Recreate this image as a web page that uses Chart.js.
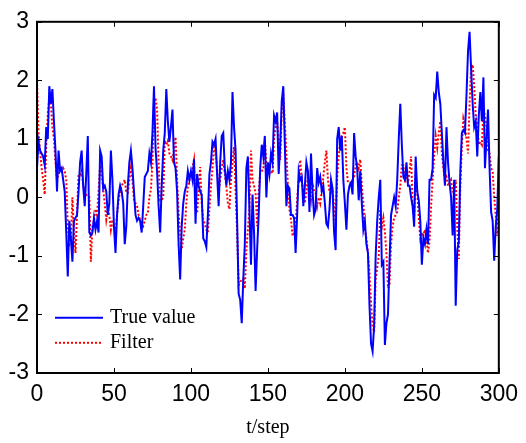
<!DOCTYPE html>
<html>
<head>
<meta charset="utf-8">
<script src="https://cdn.jsdelivr.net/npm/chart.js@4.4.0/dist/chart.umd.min.js"></script>
<style>
  body { margin: 0; background: #fff; }
  #wrap { width: 526px; height: 443px; }
</style>
</head>
<body>
<div id="wrap"><canvas id="filterChart" width="526" height="443"></canvas></div>
<script>
// time steps 0..300
const steps = Array.from({ length: 301 }, (_, i) => i);

// values, 10 per row
const trueValue = [
  0.5, 0.95, 0.8, 0.75, 0.7, 0.55, 1.2, 1.0, 1.9, 1.6,
  1.85, 1.3, 0.8, 0.1, 0.8, 0.45, 0.5, 0.3, 0.1, -0.6,
  -1.35, -0.4, -0.7, -1.1, -0.4, -0.35, -0.3, 0.1, 0.6, 0.8,
  0.2, -0.15, 0.4, 1.05, -0.6, -0.65, -0.6, -0.35, -0.55, -0.4,
  -0.6, 0.8, 0.7, 0.15, 0.2, 0.1, -0.3, -0.1, 0.8, 0.3,
  -0.5, -0.95, -0.3, 0.05, 0.2, 0.1, -0.1, -0.8, -0.5, 0.2,
  0.6, 0.8, 0.5, 0.1, -0.3, -0.4, -0.35, -0.4, -0.6, -0.15,
  0.35, 0.4, 0.45, 0.75, 0.6, 1.1, 1.9, 0.85, 0.45, -0.15,
  -0.6, 0.2, 0.8, 1.1, 1.85, 1.3, 0.95, 1.2, 1.5, 0.6,
  0.5, 0.1, -0.8, -1.4, -0.5, -0.1, 0.1, 0.2, 0.45, 0.3,
  0.45, 0.3, 0.65, -0.45, 0.4, 0.2, 0.1, 0.05, -0.7, -0.75,
  -0.85, -0.3, 0.4, 0.6, 0.95, 0.9, 1.0, 0.4, -0.15, 0.6,
  1.05, 1.1, 0.5, 0.2, 0.45, 0.3, 0.6, 1.8, 1.2, 0.8,
  -0.4, -1.65, -1.75, -2.15, -1.4, -0.8, 0.5, 0.7, -0.2, -1.15,
  0.05, -0.6, -1.6, -0.9, -0.3, 0.5, 0.9, 0.7, 1.05, 0.0,
  0.6, 0.4, 0.75, 0.6, 1.4, 1.3, 1.45, 0.4, 0.9, 1.65,
  1.9, 0.9, -0.15, 0.2, 0.15, -0.3, -0.3, -0.35, -0.95, -0.3,
  0.45, 0.3, 0.35, -0.15, 0.2, 0.6, 0.45, -0.25, 0.75, 0.1,
  -0.3, -0.2, 0.5, 0.25, 0.35, 0.1, 0.2, -0.1, -0.45, -0.5,
  -0.2, 0.3, 0.15, -0.6, -0.9, 1.0, 1.2, 0.8, 1.05, 0.3,
  -0.1, -0.55, 0.05, 0.2, 0.25, 0.05, 1.1, 0.7, 0.5, -0.05,
  0.45, -0.1, -0.55, -0.4, -0.8, -0.95, -1.85, -2.5, -2.63, -2.2,
  -1.0, -0.4, 0.0, 0.3, -1.15, -1.1, -2.52, -2.15, -2.0, -1.1,
  -0.3, -0.15, 0.0, -0.15, 0.3, 1.0, 1.6, 0.9, 0.35, 0.3,
  0.6, 0.2, 0.2, 0.0, -0.15, -0.5, 0.7, 0.1, -0.05, -0.4,
  -1.15, -0.7, -0.8, -0.55, -0.8, 0.3, 0.3, 0.5, 1.75, 1.7,
  2.15, 1.8, 1.6, 1.1, 0.6, 0.2, 1.2, 0.6, 0.25, 0.0,
  -0.65, 0.3, -1.85, -0.9, -0.75, 0.45, 1.1, 1.15, 1.1, 1.75,
  2.5, 2.83, 2.2, 1.6, 1.2, 1.3, 0.7, 1.4, 1.8, 1.3,
  2.05, 0.5, 1.0, 1.5, 0.5, -0.25, -0.4, -1.08, -0.5, -0.2,
  0.7
];

const filterValue = [
  2.0, 1.1, 0.8, 0.5, 0.3, 0.05, 0.9, 1.4, 1.7, 1.6,
  1.2, 1.0, 0.6, 0.3, 0.4, 0.5, 0.45, 0.5, 0.45, 0.3,
  -0.5, -0.8, -0.75, 0.0, -0.6, -0.95, -0.3, 0.4, 0.35, 0.45,
  0.2, 0.1, 0.05, 0.0, 0.0, -1.1, -0.5, -0.4, -0.2, -0.3,
  0.1, 0.55, 0.4, 0.13, -0.1, -0.38, -0.2, -0.3, -0.55, -0.38,
  -0.5, -0.6, -0.3, -0.04, 0.1, 0.2, 0.25, 0.3, 0.08, 0.08,
  0.3, 0.5, 0.3, -0.04, -0.1, -0.15, -0.3, -0.38, -0.45, -0.49,
  -0.4, -0.3, -0.27, 0.0, 0.13, 0.6, 1.65, 1.7, 1.5, 0.6,
  -0.05, -0.05, 0.0, 0.97, 0.9, 0.97, 0.75, 0.7, 0.64, 0.8,
  1.03, 0.3, -0.27, -0.6, -0.88, -0.7, -0.55, -0.1, 0.19, 0.3,
  0.36, 0.5, 0.64, -0.15, -0.27, 0.1, 0.52, -0.1, -0.38, -0.45,
  -0.55, -0.6, -0.2, 0.19, 0.5, 0.86, 0.75, 0.47, 0.1, 0.3,
  0.5, 0.64, 0.4, 0.19, -0.1, -0.2, 0.3, 0.6, 0.86, 0.13,
  -0.6, -1.5, -1.45, -1.4, -1.39, -1.56, -0.9, -0.55, -0.2, 0.8,
  0.3, 0.2, 0.08, -0.49, 0.1, 0.41, 0.45, 0.47, 0.97, 0.58,
  0.5, 0.41, 0.45, 0.41, 1.0, 1.2, 1.3, 1.0, 0.64, 1.5,
  1.77, 1.26, 0.75, 0.2, -0.2, -0.38, -0.66, -0.6, -0.49, -0.04,
  0.3, 0.64, 0.3, 0.08, -0.1, 0.1, 0.36, 0.15, -0.04, 0.24,
  0.1, 0.08, -0.15, 0.0, -0.1, 0.1, 0.36, 0.6, 0.8, 0.3,
  0.1, 0.05, 0.13, -0.15, -0.45, 0.35, 0.7, 0.95, 1.05, 1.1,
  1.2, 0.5, 0.25, 0.25, 0.25, 0.3, 0.35, 0.55, 0.6, 0.5,
  0.65, 0.2, -0.1, -0.55, -0.7, -0.95, -1.3, -1.8, -2.2, -2.3,
  -1.4, -1.2, -1.0, -0.2, -0.5, -0.35, -0.6, -0.95, -1.55, -1.5,
  -0.8, -0.5, -0.35, -0.3, -0.25, 0.0, 0.2, 0.55, 0.55, 0.3,
  0.35, 0.25, 0.45, 0.7, -0.1, -0.35, 0.45, 0.1, -0.35, -0.7,
  -0.6, -0.65, -0.55, -0.7, -0.95, -0.75, -0.15, 0.3, 0.7, 1.05,
  0.85, 1.1, 1.3, 0.75, 0.5, 0.3, 0.35, 0.2, 0.25, 0.3,
  0.1, 0.1, 0.3, -0.5, -1.05, 0.2, 0.9, 1.35, 1.25, 1.0,
  0.75, 1.6, 2.2, 2.27, 1.9, 1.4, 1.25, 0.9, 0.95, 0.9,
  1.5, 1.4, 1.2, 0.8, 0.75, 0.5, 0.45, 0.0, -0.3, -0.66,
  0.1
];

const xTicks = [0, 50, 100, 150, 200, 250, 300];
const yTicks = [-3, -2, -1, 0, 1, 2, 3];

const toPoints = arr => arr.map((v, i) => ({ x: steps[i], y: v }));

// frame, inward tick marks and the legend inside the axes (MATLAB look)
const matlabFrame = {
    id: 'matlabFrame',
    afterDraw(chart) {
        const { ctx, chartArea: a, scales } = chart;
        const tl = 5;
        ctx.save();
        ctx.strokeStyle = '#000';
        ctx.lineWidth = 1;
        ctx.beginPath();
        xTicks.forEach(v => {
            const px = Math.round(scales.x.getPixelForValue(v)) + 0.5;
            ctx.moveTo(px, a.bottom); ctx.lineTo(px, a.bottom - tl);
            ctx.moveTo(px, a.top); ctx.lineTo(px, a.top + tl);
        });
        yTicks.forEach(v => {
            const py = Math.round(scales.y.getPixelForValue(v)) + 0.5;
            ctx.moveTo(a.left, py); ctx.lineTo(a.left + tl, py);
            ctx.moveTo(a.right, py); ctx.lineTo(a.right - tl, py);
        });
        ctx.stroke();

        ctx.lineWidth = 2;
        ctx.strokeRect(a.left, a.top, a.right - a.left, a.bottom - a.top);

        // legend
        const items = chart.data.datasets;
        const lx = a.left + 18, ly = a.top + 296;
        items.forEach((ds, i) => {
            const y = ly + i * 25;
            ctx.beginPath();
            ctx.strokeStyle = ds.borderColor;
            ctx.lineWidth = ds.borderWidth;
            ctx.setLineDash(ds.borderDash || []);
            ctx.moveTo(lx, y); ctx.lineTo(lx + 48, y);
            ctx.stroke();
            ctx.setLineDash([]);
            ctx.fillStyle = '#000';
            ctx.font = '20px "Liberation Serif", "Times New Roman", serif';
            ctx.textBaseline = 'middle';
            ctx.fillText(ds.label, lx + 55, y);
        });
        ctx.restore();
    }
};

new Chart(document.getElementById('filterChart'), {
    type: 'line',
    data: {
        datasets: [
            {
                label: 'True value',
                data: toPoints(trueValue),
                borderColor: '#0000ff',
                borderWidth: 2,
                pointRadius: 0,
                tension: 0
            },
            {
                label: 'Filter',
                data: toPoints(filterValue),
                borderColor: '#ff0000',
                borderWidth: 2,
                borderDash: [2, 2],
                pointRadius: 0,
                tension: 0
            }
        ]
    },
    options: {
        responsive: false,
        animation: false,
        devicePixelRatio: 1,
        layout: { padding: { top: 16, right: 24, left: 0, bottom: 0 } },
        plugins: {
            legend: { display: false },
            tooltip: { enabled: false }
        },
        scales: {
            x: {
                type: 'linear',
                min: 0,
                max: 300,
                afterBuildTicks: s => { s.ticks = xTicks.map(v => ({ value: v })); },
                afterFit: s => { s.height = 70; },
                grid: { display: false, drawTicks: false },
                border: { display: false },
                ticks: {
                    color: '#000',
                    padding: 8,
                    maxRotation: 0,
                    font: { family: '"Liberation Sans", Arial, sans-serif', size: 23 }
                },
                title: {
                    display: true,
                    text: 't/step',
                    color: '#000',
                    padding: { top: 0, bottom: 3 },
                    font: { family: '"Liberation Serif", "Times New Roman", serif', size: 20 }
                }
            },
            y: {
                min: -3,
                max: 3,
                afterBuildTicks: s => { s.ticks = yTicks.map(v => ({ value: v })); },
                afterFit: s => { s.width = 37; },
                grid: { display: false, drawTicks: false },
                border: { display: false },
                ticks: {
                    color: '#000',
                    padding: 8,
                    font: { family: '"Liberation Sans", Arial, sans-serif', size: 23 }
                }
            }
        }
    },
    plugins: [matlabFrame]
});
</script>
</body>
</html>
